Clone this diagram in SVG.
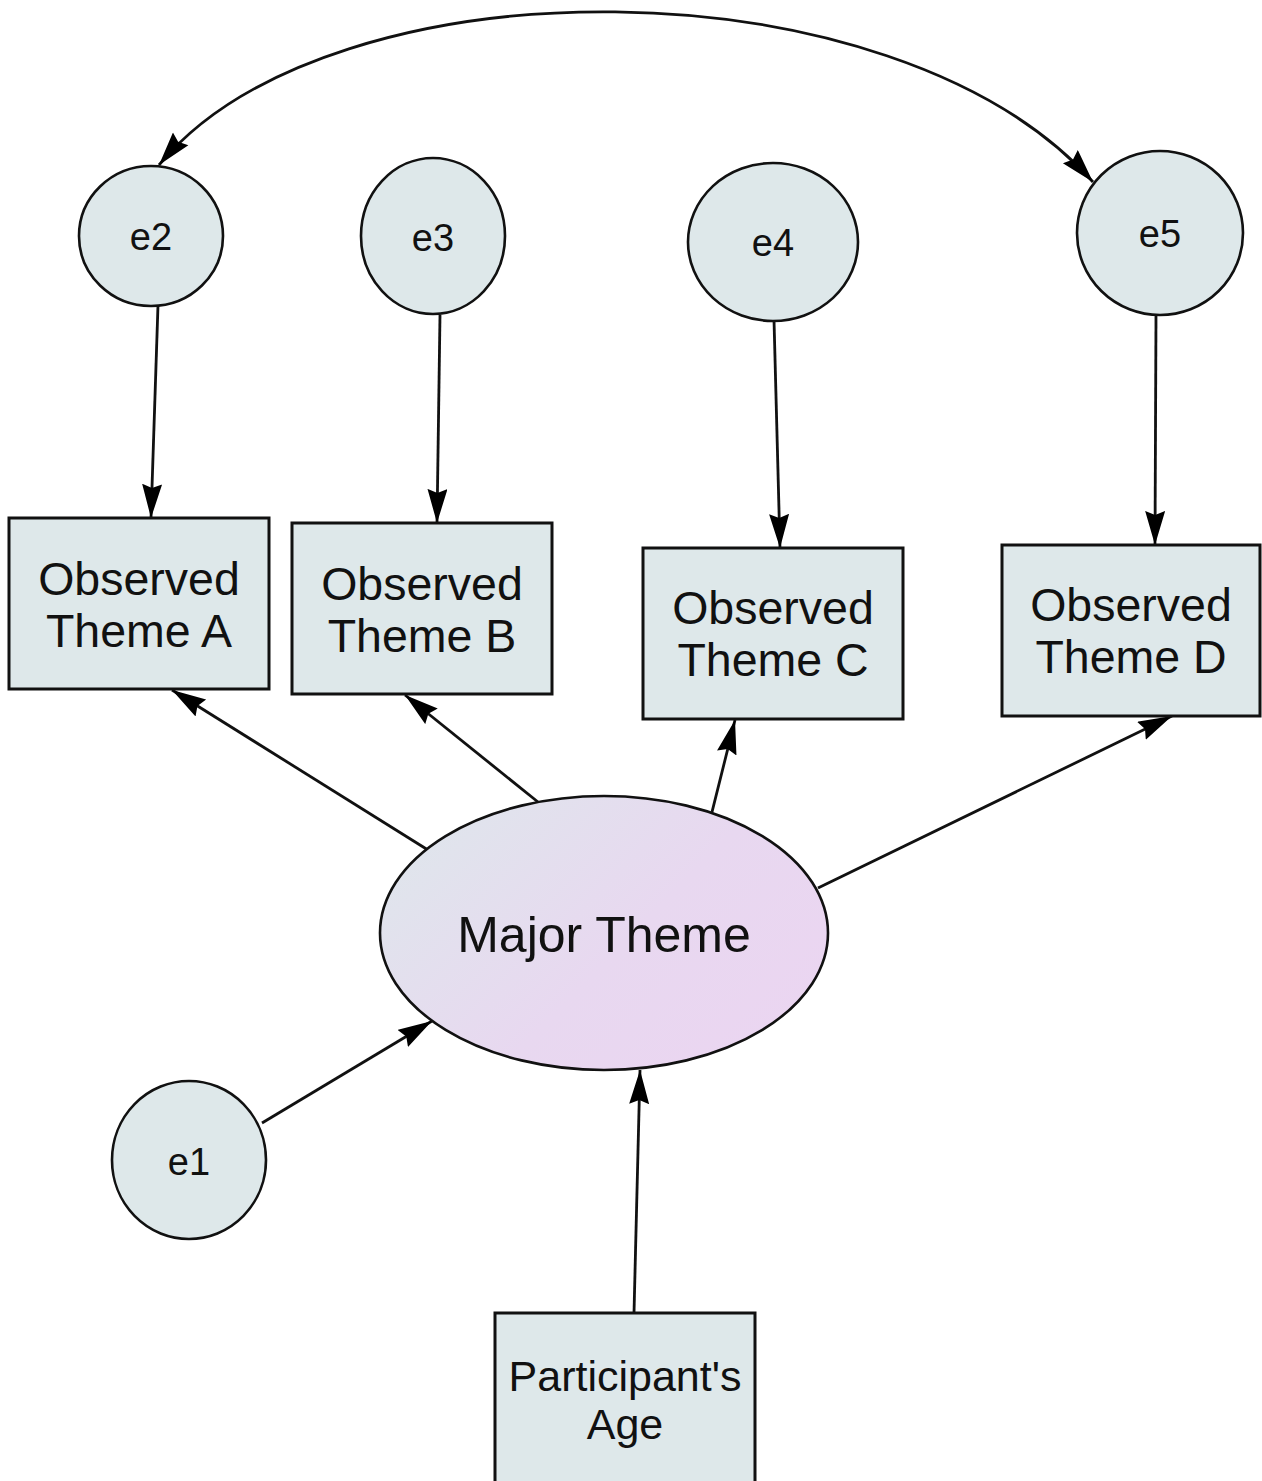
<svg xmlns="http://www.w3.org/2000/svg" width="1262" height="1481" viewBox="0 0 1262 1481">
  <style>
    .obs { fill: #dee8ea; stroke: #111; stroke-width: 3; }
    .err { fill: #dee8ea; stroke: #111; stroke-width: 2.6; }
    .lat { fill: url(#latGrad); stroke: #111; stroke-width: 2.6; }
    .lbl { font-family: "Liberation Sans", Arial, sans-serif; fill: #111; text-anchor: middle; }
    .box { font-size: 46.5px; }
    .small { font-size: 38px; }
    .edge { fill: none; stroke: #111; stroke-width: 2.8; marker-end: url(#arrow); }
  </style>
  <defs>
    <linearGradient id="latGrad" x1="0" y1="0.2" x2="1" y2="0.8">
      <stop offset="0" stop-color="#dfe6ec"/>
      <stop offset="0.55" stop-color="#e8d8f0"/>
      <stop offset="1" stop-color="#ebd5f1"/>
    </linearGradient>
    <marker id="arrow" markerUnits="userSpaceOnUse" markerWidth="36" markerHeight="22" refX="34" refY="10" orient="auto">
      <path d="M0,0 L34,10 L0,20 L4,10 z" fill="#000"/>
    </marker>
    <marker id="arrowStart" markerUnits="userSpaceOnUse" markerWidth="36" markerHeight="22" refX="0" refY="10" orient="auto">
      <path d="M34,0 L0,10 L34,20 L30,10 z" fill="#000"/>
    </marker>
  </defs>

  <!-- connectors -->
  <g id="connectors">
    <path d="M159,165 C330,-42 893,-42 1093,182" fill="none" stroke="#111" stroke-width="2.8" marker-start="url(#arrowStart)" marker-end="url(#arrow)"/>
    <line class="edge" x1="158" y1="305" x2="151" y2="518"/>
    <line class="edge" x1="440" y1="315" x2="437" y2="523"/>
    <line class="edge" x1="774" y1="320" x2="780" y2="548"/>
    <line class="edge" x1="1156" y1="316" x2="1155" y2="545"/>
    <line class="edge" x1="428" y1="850" x2="172" y2="690"/>
    <line class="edge" x1="538" y1="802" x2="405" y2="695"/>
    <line class="edge" x1="712" y1="812" x2="735" y2="720"/>
    <line class="edge" x1="818" y1="888" x2="1172" y2="716"/>
    <line class="edge" x1="262" y1="1123" x2="432" y2="1021"/>
    <line class="edge" x1="634" y1="1313" x2="640" y2="1070"/>
  </g>

  <!-- error terms -->
  <g id="e2">
    <ellipse class="err" cx="151" cy="236" rx="72" ry="70"/>
    <text class="lbl small" x="151" y="250">e2</text>
  </g>
  <g id="e3">
    <ellipse class="err" cx="433" cy="236" rx="72" ry="78"/>
    <text class="lbl small" x="433" y="251">e3</text>
  </g>
  <g id="e4">
    <ellipse class="err" cx="773" cy="242" rx="85" ry="79"/>
    <text class="lbl small" x="773" y="256">e4</text>
  </g>
  <g id="e5">
    <ellipse class="err" cx="1160" cy="233" rx="83" ry="82"/>
    <text class="lbl small" x="1160" y="247">e5</text>
  </g>
  <g id="e1">
    <ellipse class="err" cx="189" cy="1160" rx="77" ry="79"/>
    <text class="lbl small" x="189" y="1175">e1</text>
  </g>

  <!-- observed variables -->
  <g id="themeA">
    <rect class="obs" x="9" y="518" width="260" height="171"/>
    <text class="lbl box" x="139" y="595">Observed</text>
    <text class="lbl box" x="139" y="647">Theme A</text>
  </g>
  <g id="themeB">
    <rect class="obs" x="292" y="523" width="260" height="171"/>
    <text class="lbl box" x="422" y="600">Observed</text>
    <text class="lbl box" x="422" y="652">Theme B</text>
  </g>
  <g id="themeC">
    <rect class="obs" x="643" y="548" width="260" height="171"/>
    <text class="lbl box" x="773" y="624">Observed</text>
    <text class="lbl box" x="773" y="676">Theme C</text>
  </g>
  <g id="themeD">
    <rect class="obs" x="1002" y="545" width="258" height="171"/>
    <text class="lbl box" x="1131" y="621">Observed</text>
    <text class="lbl box" x="1131" y="673">Theme D</text>
  </g>

  <!-- latent variable -->
  <g id="majorTheme">
    <ellipse class="lat" cx="604" cy="933" rx="224" ry="137"/>
    <text class="lbl" x="604" y="952" font-size="50">Major Theme</text>
  </g>

  <!-- predictor -->
  <g id="age">
    <rect class="obs" x="495" y="1313" width="260" height="180"/>
    <text class="lbl" x="625" y="1391" font-size="43">Participant's</text>
    <text class="lbl" x="625" y="1439" font-size="43">Age</text>
  </g>
</svg>
